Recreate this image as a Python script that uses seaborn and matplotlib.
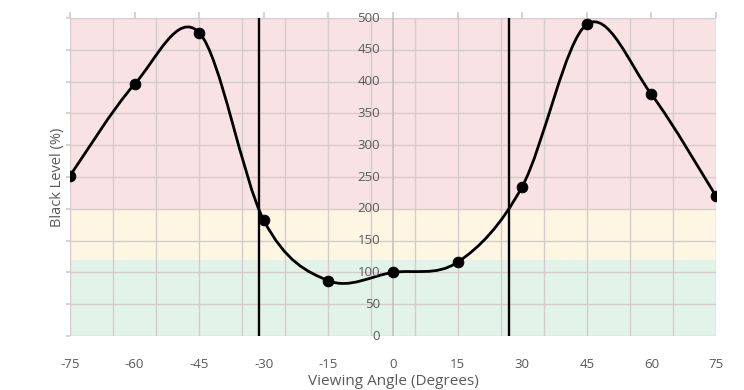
import numpy as np
import pandas as pd
import matplotlib
matplotlib.use("Agg")
import matplotlib.pyplot as plt
from matplotlib.path import Path
from matplotlib.patches import PathPatch
import seaborn as sns

# ---- data ----
angles = [-75, -60, -45, -30, -15, 0, 15, 30, 45, 60, 75]
black_level = [252, 396, 477, 182, 87, 100, 116, 235, 490, 380, 220]
xtick_values = [-75, -60, -45, -30, -15, 0, 15, 30, 45, 60, 75]
ytick_values = [0, 50, 100, 150, 200, 250, 300, 350, 400, 450, 500]
band_edges = [0, 120, 200, 500]
band_colors = ["#e2f4e9", "#fef6e2", "#f9e2e3"]
cutoff_angles = [-31, 27]

sns.set_theme(style="white")
plt.rcParams['font.family'] = ['Open Sans', 'DejaVu Sans']
txt = "#595959"
grid_c = "#d3cbcc"

fig = plt.figure(figsize=(7.44, 3.90), dpi=100)
ax = fig.add_axes([70/744, 1-336/390, 646/744, 318/390])

# bands
for lo, hi, c in zip(band_edges[:-1], band_edges[1:], band_colors):
    ax.axhspan(lo, hi, color=c, zorder=0, lw=0)

# grid
for v in range(-75, 76, 10):
    ax.axvline(v, color=grid_c, lw=1, zorder=1)
for v in ytick_values:
    ax.axhline(v, color=grid_c, lw=1, zorder=1)
ax.axvline(0, color="#c8c0c0", lw=1.2, zorder=1)

# smooth curve (Catmull-Rom style Bezier path through the points)
xs = np.array(angles, float)
ys = np.array(black_level, float)
n = len(xs)
verts = [(xs[0], ys[0])]
codes = [Path.MOVETO]
for i in range(n - 1):
    p0 = np.array([xs[max(i-1, 0)], ys[max(i-1, 0)]])
    p1 = np.array([xs[i], ys[i]])
    p2 = np.array([xs[i+1], ys[i+1]])
    p3 = np.array([xs[min(i+2, n-1)], ys[min(i+2, n-1)]])
    c1 = p1 + (p2 - p0) / 6
    c2 = p2 - (p3 - p1) / 6
    verts += [tuple(c1), tuple(c2), tuple(p2)]
    codes += [Path.CURVE4] * 3
ax.add_patch(PathPatch(Path(verts, codes), fill=False, ec="black", lw=2.0, zorder=4))

df = pd.DataFrame({"angle": angles, "level": black_level})
sns.scatterplot(data=df, x="angle", y="level", ax=ax, color="black", s=60,
                edgecolor="black", zorder=5, legend=False)

for a in cutoff_angles:
    ax.axvline(a, color="black", lw=1.7, zorder=3)

ax.set_xlim(-75, 75)
ax.set_ylim(0, 500)
for s in ax.spines.values():
    s.set_visible(False)

ax.set_xticks(xtick_values)
ax.set_xticklabels([str(v) for v in xtick_values])
ax.tick_params(axis='x', bottom=False, top=True, labelbottom=True, labeltop=False,
               length=4, color=grid_c, labelcolor=txt, labelsize=9.5, pad=12)
ax.set_yticks(ytick_values)
ax.set_yticklabels([])
ax.tick_params(axis='y', left=True, length=3, color=grid_c)

for v in ytick_values:
    ax.text(-3.0, v, str(v), ha='right', va='center', color=txt, fontsize=9.5, zorder=6)

ax.set_xlabel("Viewing Angle (Degrees)", color=txt, fontsize=11, labelpad=2)
ax.set_ylabel("Black Level (%)", color=txt, fontsize=10.5)
ax.yaxis.set_label_coords(-0.0077, 0.5)

fig.savefig("out.png", dpi=100)
